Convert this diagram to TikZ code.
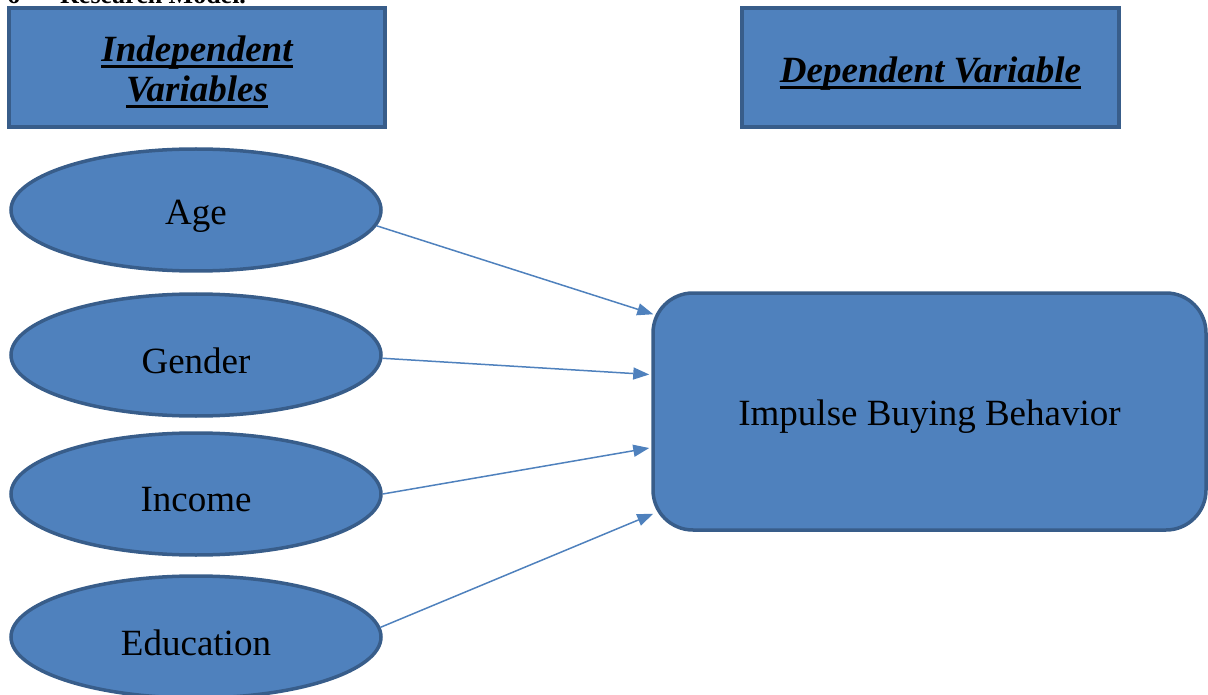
\documentclass[tikz,border=0pt]{standalone}
\usepackage{fontspec}
\setmainfont{Liberation Serif}
\usetikzlibrary{shapes.geometric,arrows.meta,calc}
\definecolor{fillblue}{HTML}{4F81BD}
\definecolor{edgeblue}{HTML}{385D8A}
\newcommand\thickul[1]{\leavevmode\begingroup\setbox0\hbox{#1}\dp0=0pt\vtop{\box0\kern3.5pt\hrule height 3pt}\endgroup}
\newcommand\lowtext[2][6pt]{\raisebox{-#1}[\height][\depth]{#2}}
\tikzset{
  hdrbox/.style={draw=edgeblue, fill=fillblue, line width=3.5pt, inner sep=0pt,
    minimum height=119pt, align=center, font=\fontsize{37}{40}\selectfont\bfseries\itshape},
  varell/.style={ellipse, draw=edgeblue, fill=fillblue, line width=3.5pt, inner sep=0pt,
    minimum width=370pt, minimum height=122pt, font=\fontsize{37}{40}\selectfont},
  outbox/.style={draw=edgeblue, fill=fillblue, line width=3.5pt, rounded corners=40pt,
    inner sep=0pt, minimum width=553pt, minimum height=237pt, font=\fontsize{37}{40}\selectfont},
  conn/.style={draw=fillblue, line width=1.5pt, -{Triangle[length=16pt,width=12pt]}},
  toptext/.style={font=\fontsize{26}{28}\selectfont\bfseries, inner sep=0pt, anchor=base west}
}
\begin{document}
\begin{tikzpicture}[x=1pt,y=-1pt]
\useasboundingbox (0,0) rectangle (1208,695);
\clip (0,0) rectangle (1208,695);
\node[toptext] (num) at (7,4) {6};
\node[toptext] (title) at (60,4) {Research Model.};
\node[hdrbox, minimum width=376pt] (ivh) at (197,67.5)
  {\lowtext{\begin{tabular}{@{}c@{}}\thickul{Independent}\\\thickul{Variables}\end{tabular}}};
\node[hdrbox, minimum width=377pt] (dvh) at (930.5,67.5) {\lowtext[5pt]{\thickul{Dependent Variable}}};
\node[varell] (age) at (196,210) {\lowtext{Age}};
\node[varell] (gender) at (196,355) {\lowtext{Gender}};
\node[varell] (income) at (196,494) {\lowtext{Income}};
\node[varell] (edu) at (196,637) {\lowtext{Education}};
\node[outbox] (ibb) at (929.5,411.5) {\lowtext[5pt]{Impulse Buying Behavior}};
\draw[conn] (age.-5) -- ($(ibb.north west)+(2,23)$);
\draw[conn] (gender.-1) -- ($(ibb.west)+(-2,-37)$);
\draw[conn] (income.east) -- ($(ibb.west)+(-2,36.5)$);
\draw[conn] (edu.3) -- ($(ibb.south west)+(2,-18)$);
\end{tikzpicture}
\end{document}
